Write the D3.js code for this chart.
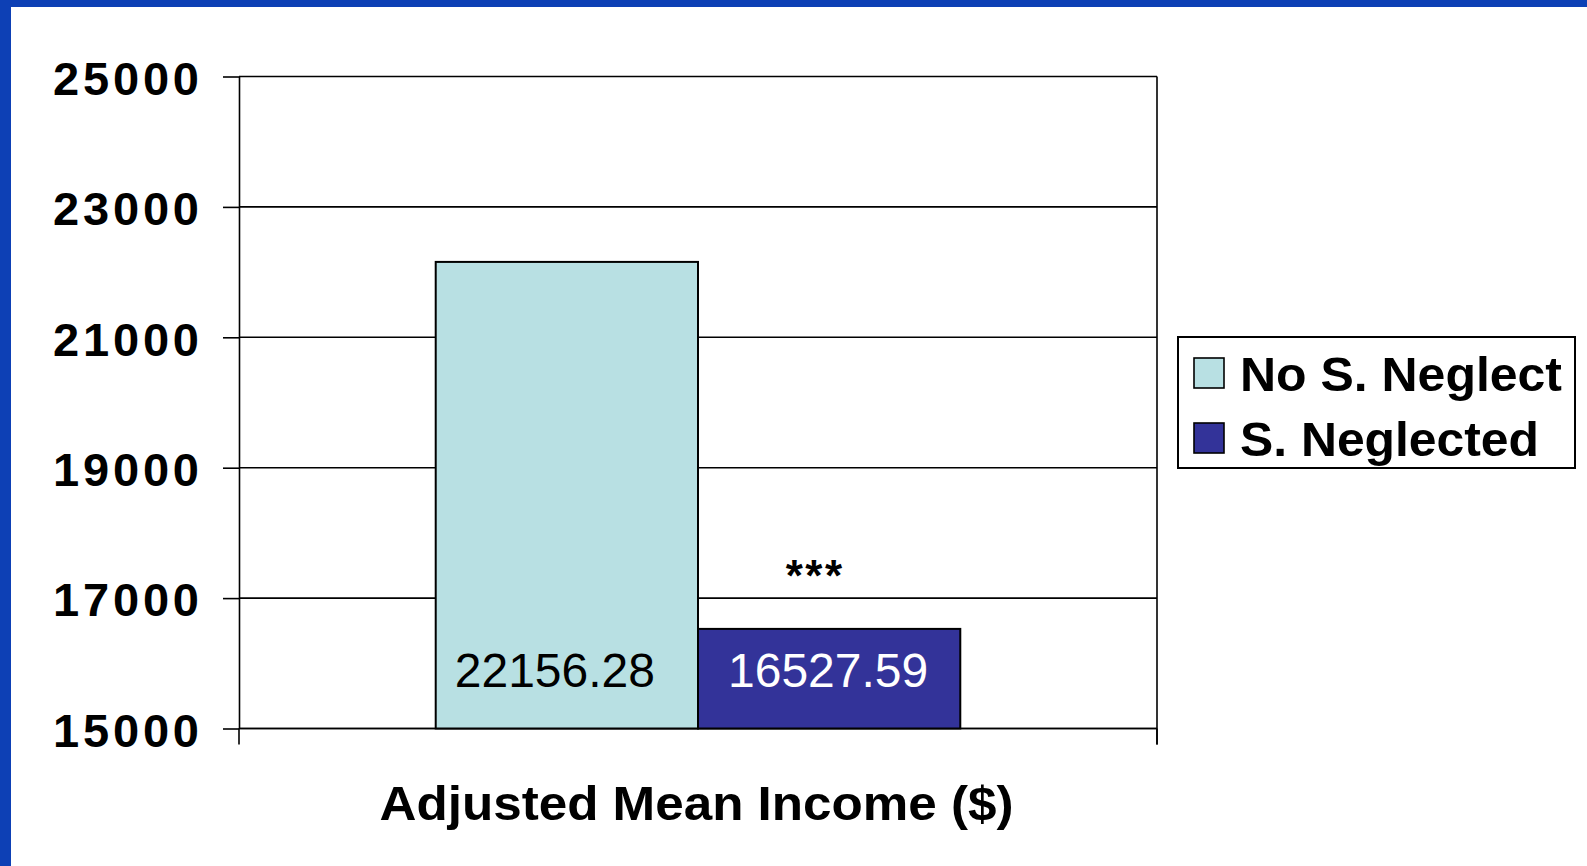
<!DOCTYPE html>
<html>
<head>
<meta charset="utf-8">
<script src="https://cdn.jsdelivr.net/npm/d3@7"></script>
<style>
    html, body { margin: 0; padding: 0; background: #fff; }
    svg { display: block; font-family: "Liberation Sans", Arial, sans-serif; }
</style>
</head>
<body>
<svg width="1587" height="866"></svg>
<script>
// data
const categories = ["Adjusted Mean Income ($)"];
const seriesNames = ["No S. Neglect", "S. Neglected"];
const seriesValues = [22156.28, 16527.59];
const seriesColors = ["#b8e0e3", "#333399"];
const labelColors = ["#000", "#fff"];
const yTicks = [15000, 17000, 19000, 21000, 23000, 25000];
const significance = "***";

const svg = d3.select("svg");

// blue frame (left and top)
svg.append("rect").attr("x", 0).attr("y", 0).attr("width", 11).attr("height", 866).attr("fill", "#0d40b5");
svg.append("rect").attr("x", 0).attr("y", 0).attr("width", 1587).attr("height", 7).attr("fill", "#0d40b5");

const plot = { left: 239, right: 1157, top: 76.5, bottom: 728.5 };

const y = d3.scaleLinear().domain([15000, 25000]).range([plot.bottom, plot.top]);
const x = d3.scaleBand().domain(categories).range([plot.left, plot.right]);
const xs = d3.scaleBand().domain(seriesNames).range([0, x.bandwidth()]).paddingOuter(0.75);

// gridlines
svg.append("g")
    .selectAll("line")
    .data(yTicks)
    .join("line")
    .attr("x1", plot.left)
    .attr("x2", plot.right)
    .attr("y1", d => y(d))
    .attr("y2", d => y(d))
    .attr("stroke", "#000")
    .attr("stroke-width", 1.6);

// right edge of plot frame
svg.append("line")
    .attr("x1", plot.right).attr("x2", plot.right)
    .attr("y1", plot.top).attr("y2", plot.bottom + 16)
    .attr("stroke", "#000").attr("stroke-width", 1.6);

// y axis
const yAxis = svg.append("g")
    .attr("transform", `translate(${plot.left},0)`)
    .call(d3.axisLeft(y).tickValues(yTicks).tickSize(16).tickSizeOuter(0).tickPadding(24).tickFormat(d3.format("d")));
yAxis.select(".domain").attr("stroke", "#000").attr("stroke-width", 1.6);
yAxis.selectAll(".tick line").attr("stroke", "#000").attr("stroke-width", 1.6);
yAxis.selectAll(".tick text")
    .attr("fill", "#000")
    .attr("font-size", 47)
    .attr("font-weight", "bold")
    .attr("textLength", 146)
    .attr("lengthAdjust", "spacing")
    .attr("dy", "0.38em");

// category axis: ticks at band edges
const xAxis = svg.append("g")
    .attr("transform", `translate(0,${plot.bottom})`);
xAxis.append("line")
    .attr("x1", plot.left).attr("x2", plot.right)
    .attr("stroke", "#000").attr("stroke-width", 1.6);
xAxis.selectAll(".edge")
    .data([plot.left, plot.right])
    .join("line")
    .attr("class", "edge")
    .attr("x1", d => d).attr("x2", d => d)
    .attr("y1", 0).attr("y2", 16)
    .attr("stroke", "#000").attr("stroke-width", 1.6);
xAxis.selectAll("text")
    .data(categories)
    .join("text")
    .attr("x", d => x(d) + x.bandwidth() / 2 - 1.5)
    .attr("y", 91)
    .attr("text-anchor", "middle")
    .attr("font-size", 47.5)
    .attr("font-weight", "bold")
    .attr("textLength", 634)
    .attr("lengthAdjust", "spacingAndGlyphs")
    .text(d => d);

// bars
const bars = seriesNames.map((name, i) => ({
    name,
    value: seriesValues[i],
    color: seriesColors[i],
    labelColor: labelColors[i],
    category: categories[0],
}));

const barG = svg.append("g");
barG.selectAll("rect")
    .data(bars)
    .join("rect")
    .attr("x", d => x(d.category) + xs(d.name))
    .attr("y", d => y(d.value))
    .attr("width", xs.bandwidth())
    .attr("height", d => y(15000) - y(d.value))
    .attr("fill", d => d.color)
    .attr("stroke", "#000")
    .attr("stroke-width", 2);

// value labels near the bottom of each bar
const labelShift = [-12, -1];
barG.selectAll("text")
    .data(bars)
    .join("text")
    .attr("x", (d, i) => x(d.category) + xs(d.name) + xs.bandwidth() / 2 + labelShift[i])
    .attr("y", y(15000) - 42)
    .attr("text-anchor", "middle")
    .attr("font-size", 48)
    .attr("fill", d => d.labelColor)
    .text(d => d.value.toFixed(2));

// significance marker above second bar
svg.append("text")
    .attr("x", x(categories[0]) + xs(seriesNames[1]) + xs.bandwidth() / 2 - 14)
    .attr("y", y(seriesValues[1]) - 38)
    .attr("text-anchor", "middle")
    .attr("font-size", 44)
    .attr("font-weight", "bold")
    .attr("letter-spacing", 2.5)
    .text(significance);

// legend
const legend = svg.append("g").attr("transform", "translate(1178,337)");
legend.append("rect")
    .attr("width", 397).attr("height", 131)
    .attr("fill", "#fff").attr("stroke", "#000").attr("stroke-width", 2);
const legendWidths = [322, 299];
const items = legend.selectAll(".item")
    .data(bars)
    .join("g")
    .attr("class", "item")
    .attr("transform", (d, i) => `translate(0,${i * 65})`);
items.append("rect")
    .attr("x", 16).attr("y", 21)
    .attr("width", 30).attr("height", 30)
    .attr("fill", d => d.color)
    .attr("stroke", "#000").attr("stroke-width", 1.6);
items.append("text")
    .attr("x", 62).attr("y", 54)
    .attr("font-size", 47.5)
    .attr("font-weight", "bold")
    .attr("textLength", (d, i) => legendWidths[i])
    .attr("lengthAdjust", "spacingAndGlyphs")
    .text(d => d.name);
</script>
</body>
</html>
